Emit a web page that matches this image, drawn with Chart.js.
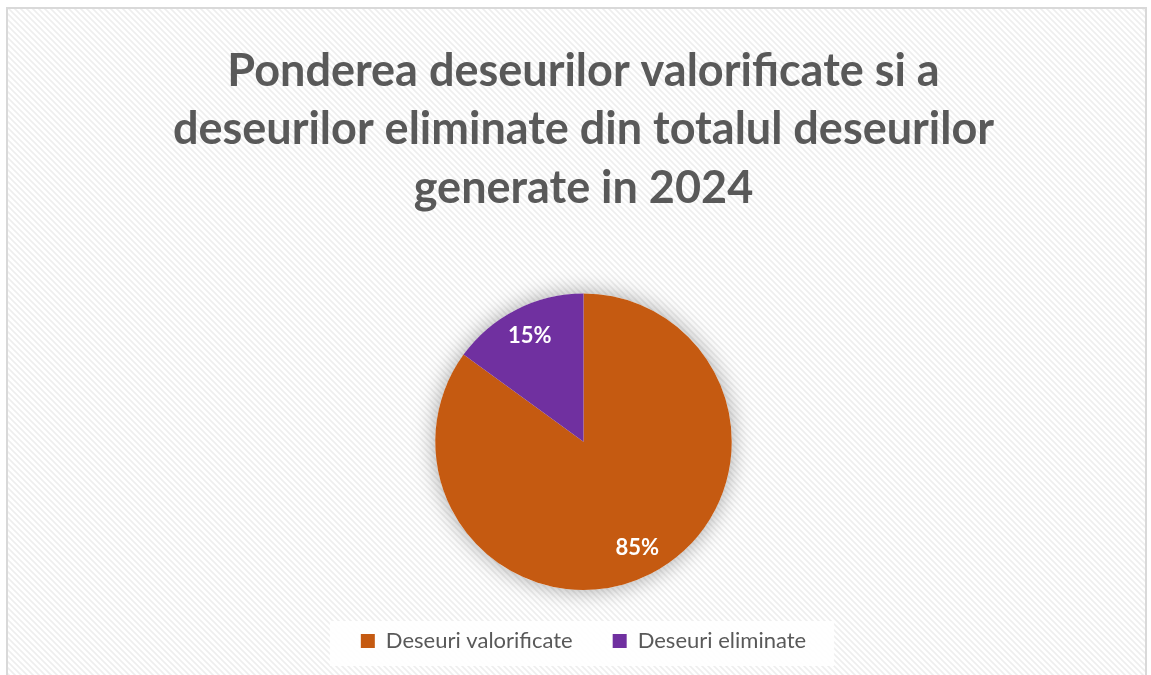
<!DOCTYPE html>
<html>
<head>
  <title>Ponderea deseurilor</title>
  <script src="https://cdn.jsdelivr.net/npm/chart.js"></script>
  <style>
    html, body { margin: 0; padding: 0; background: #fff; }
    #wrap { width: 1151px; height: 675px; position: relative; }
  </style>
</head>
<body>
  <div id="wrap"><canvas id="myChart"></canvas></div>

  <script>
    const titleLines = ['Ponderea deseurilor valorificate si a', 'deseurilor eliminate din totalul deseurilor', 'generate in 2024'];
    const categories = ['Deseuri valorificate', 'Deseuri eliminate'];
    const shares = [85, 15];
    const colors = ['#C55A11', '#7030A0'];

    // striped background + light frame
    function stripePattern(ctx) {
      const c = document.createElement('canvas');
      c.width = 6; c.height = 6;
      const p = c.getContext('2d');
      p.fillStyle = '#ffffff';
      p.fillRect(0, 0, 6, 6);
      p.strokeStyle = '#eeeeee';
      p.lineWidth = 1.6;
      p.beginPath();
      p.moveTo(0, 0); p.lineTo(6, 6);
      p.moveTo(-3, 3); p.lineTo(3, 9);
      p.moveTo(3, -3); p.lineTo(9, 3);
      p.stroke();
      return ctx.createPattern(c, 'repeat');
    }

    const backgroundPlugin = {
      id: 'bg',
      beforeDraw(chart) {
        const ctx = chart.ctx;
        ctx.save();
        ctx.fillStyle = '#ffffff';
        ctx.fillRect(0, 0, chart.width, chart.height);
        ctx.fillStyle = stripePattern(ctx);
        ctx.fillRect(7, 8, chart.width - 12, chart.height);
        ctx.strokeStyle = '#d9d9d9';
        ctx.lineWidth = 2;
        ctx.strokeRect(7, 8, chart.width - 12, chart.height + 10);

        // white box behind legend
        const boxes = chart.legend.legendHitBoxes;
        if (boxes && boxes.length) {
          const l = Math.min(...boxes.map(b => b.left)) - 31;
          const r = Math.max(...boxes.map(b => b.left + b.width)) + 28;
          const t = boxes[0].top - 9;
          ctx.fillStyle = 'rgba(255,255,255,0.92)';
          ctx.fillRect(l, t, r - l, 45);
        }
        ctx.restore();
      },
      beforeDatasetsDraw(chart) {
        const arc = chart.getDatasetMeta(0).data[0];
        if (!arc) return;
        const ctx = chart.ctx;
        ctx.save();
        ctx.shadowColor = 'rgba(0,0,0,0.35)';
        ctx.shadowBlur = 22;
        ctx.fillStyle = '#ffffff';
        ctx.beginPath();
        ctx.arc(arc.x, arc.y, arc.outerRadius, 0, Math.PI * 2);
        ctx.fill();
        ctx.restore();
      }
    };

    // percentage labels at 0.8 of the radius
    const labelPlugin = {
      id: 'pctLabels',
      afterDatasetsDraw(chart) {
        const ctx = chart.ctx;
        const meta = chart.getDatasetMeta(0);
        ctx.save();
        ctx.font = 'bold 22px Lato';
        ctx.fillStyle = '#ffffff';
        ctx.textAlign = 'center';
        ctx.textBaseline = 'middle';
        meta.data.forEach((arc, i) => {
          const mid = (arc.startAngle + arc.endAngle) / 2;
          const d = arc.outerRadius * 0.8;
          ctx.fillText(shares[i] + '%', arc.x + Math.cos(mid) * d, arc.y + Math.sin(mid) * d);
        });
        ctx.restore();
      }
    };

    const ctx = document.getElementById('myChart').getContext('2d');
    const myChart = new Chart(ctx, {
      type: 'pie',
      data: {
        labels: categories,
        datasets: [{
          data: shares,
          backgroundColor: colors,
          borderWidth: 0
        }]
      },
      options: {
        responsive: true,
        maintainAspectRatio: false,
        animation: false,
        layout: { padding: { top: 42, bottom: 13, left: 16 } },
        plugins: {
          title: {
            display: true,
            text: titleLines,
            color: '#595959',
            font: { family: 'Lato', size: 45, weight: 'bold', lineHeight: 1.3 },
            padding: { top: 0, bottom: 76 }
          },
          legend: {
            position: 'bottom',
            labels: {
              color: '#595959',
              font: { family: 'Lato', size: 22 },
              boxWidth: 14,
              boxHeight: 14,
              padding: 40
            }
          },
          tooltip: { enabled: false }
        }
      },
      plugins: [backgroundPlugin, labelPlugin]
    });
  </script>
</body>
</html>
